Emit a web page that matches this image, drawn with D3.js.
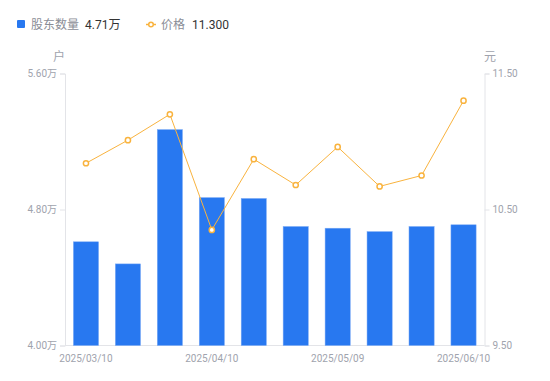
<!DOCTYPE html>
<html>
<head>
<meta charset="utf-8">
<script src="https://cdn.jsdelivr.net/npm/d3@7"></script>
<style>
  body { margin: 0; background: #fff; }
  svg text { font-family: Roboto, "Noto Sans CJK SC", sans-serif; }
</style>
</head>
<body>
<div id="chart"></div>
<script>
const width = 550;
const height = 381;

// dati
const dates = ["2025/03/10", "2025/03/20", "2025/03/31", "2025/04/10", "2025/04/18",
  "2025/04/30", "2025/05/09", "2025/05/20", "2025/05/30", "2025/06/10"];
const holders = [4.61, 4.48, 5.27, 4.87, 4.865, 4.70, 4.69, 4.67, 4.70, 4.71]; // 万户
const prices = [10.84, 11.01, 11.20, 10.35, 10.87, 10.68, 10.96, 10.67, 10.75, 11.30];
const leftTicks = [4.0, 4.8, 5.6];
const rightTicks = [9.5, 10.5, 11.5];
const shownDates = ["2025/03/10", "2025/04/10", "2025/05/09", "2025/06/10"];

const margin = { top: 73.5, right: 65.5, bottom: 35, left: 65 };
const barColor = "#2878f0";
const lineColor = "#f9b33e";
const axisColor = "#e3e4e8";
const labelColor = "#a0a3ad";

const svg = d3.select("#chart").append("svg")
  .attr("width", width)
  .attr("height", height);

const x = d3.scaleBand().domain(dates)
  .range([margin.left, width - margin.right]).paddingInner(0.4).paddingOuter(0.2);
const yL = d3.scaleLinear().domain([4.0, 5.6]).range([height - margin.bottom - 0.5, margin.top]);
const yR = d3.scaleLinear().domain([9.5, 11.5]).range([height - margin.bottom - 0.5, margin.top]);

// assi
const axisL = svg.append("g")
  .attr("transform", `translate(${margin.left},0)`)
  .call(d3.axisLeft(yL).tickValues(leftTicks).tickSize(5).tickPadding(3)
    .tickFormat(d => d3.format(".2f")(d) + "万"));
const axisR = svg.append("g")
  .attr("transform", `translate(${width - margin.right},0)`)
  .call(d3.axisRight(yR).tickValues(rightTicks).tickSize(5).tickPadding(3)
    .tickFormat(d3.format(".2f")));
const axisB = svg.append("g")
  .attr("transform", `translate(0,${height - margin.bottom - 0.5})`)
  .call(d3.axisBottom(x).tickValues(shownDates).tickSize(0).tickPadding(9));

[axisL, axisR, axisB].forEach(a => {
  a.select(".domain").attr("stroke", axisColor);
  a.selectAll(".tick line").attr("stroke", axisColor);
  a.selectAll(".tick text").attr("fill", labelColor).style("font-size", "10px");
});
axisB.select(".domain").attr("d", `M${margin.left},0H${width - margin.right}`);

// titoli assi
svg.append("text").attr("x", 59).attr("y", 61).attr("text-anchor", "middle")
  .attr("fill", labelColor).style("font-size", "12px").text("户");
svg.append("text").attr("x", 490).attr("y", 61).attr("text-anchor", "middle")
  .attr("fill", labelColor).style("font-size", "12px").text("元");

// barre
svg.append("g").selectAll("rect")
  .data(holders)
  .join("rect")
  .attr("x", (d, i) => x(dates[i]))
  .attr("y", d => yL(d))
  .attr("width", x.bandwidth())
  .attr("height", d => yL(4.0) - yL(d))
  .attr("fill", barColor)
  .attr("stroke", "#7aaaf6")
  .attr("stroke-width", 0.5);

// linea prezzo
const line = d3.line()
  .x((d, i) => x(dates[i]) + x.bandwidth() / 2)
  .y(d => yR(d));
svg.append("path")
  .datum(prices)
  .attr("d", line)
  .attr("fill", "none")
  .attr("stroke", lineColor)
  .attr("stroke-width", 1);
svg.append("g").selectAll("circle")
  .data(prices)
  .join("circle")
  .attr("cx", (d, i) => x(dates[i]) + x.bandwidth() / 2)
  .attr("cy", d => yR(d))
  .attr("r", 2.6)
  .attr("fill", "#fff")
  .attr("stroke", lineColor)
  .attr("stroke-width", 1.5);

// legenda
const leg = svg.append("g").style("font-size", "12px");
leg.append("rect").attr("x", 17).attr("y", 20).attr("width", 8).attr("height", 8)
  .attr("rx", 1).attr("fill", barColor);
leg.append("text").attr("x", 31).attr("y", 28.5).attr("fill", "#8a8d96").text("股东数量");
leg.append("text").attr("x", 85).attr("y", 28.5).attr("fill", "#333").text("4.71万");
leg.append("line").attr("x1", 146).attr("x2", 156).attr("y1", 24.5).attr("y2", 24.5)
  .attr("stroke", lineColor).attr("stroke-width", 1.5);
leg.append("circle").attr("cx", 151).attr("cy", 24.5).attr("r", 2.3)
  .attr("fill", "#fff").attr("stroke", lineColor).attr("stroke-width", 1.5);
leg.append("text").attr("x", 161).attr("y", 28.5).attr("fill", "#8a8d96").text("价格");
leg.append("text").attr("x", 192).attr("y", 28.5).attr("fill", "#333").text("11.300");
</script>
</body>
</html>
